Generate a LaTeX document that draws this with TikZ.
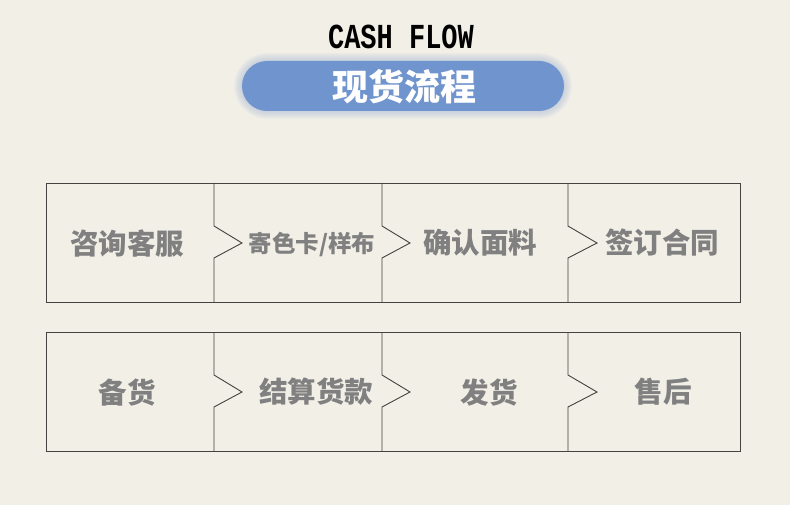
\documentclass[tikz,border=0pt]{standalone}
\usepackage{fontspec}
\newfontfamily\cjk{Noto Sans CJK SC}
\newfontfamily\monof{Liberation Mono}
\definecolor{bg}{HTML}{F2EFE7}
\definecolor{pillc}{HTML}{7094CD}
\definecolor{linec}{HTML}{45423F}
\definecolor{txtc}{HTML}{808080}
\begin{document}
\begin{tikzpicture}[x=1pt,y=-1pt,
  frame/.style={draw=linec,line width=0.9pt},
  steptext/.style={text=txtc,font=\cjk\bfseries\fontsize{28.5}{28.5}\selectfont,inner sep=0pt,anchor=center},
  smalltext/.style={text=txtc,font=\cjk\bfseries\fontsize{23.5}{23.5}\selectfont,inner sep=0pt,anchor=center}]
\fill[bg] (0,0) rectangle (790,505);
\useasboundingbox (0,0) rectangle (790,505);
% title
\node[font=\monof\bfseries\fontsize{27}{27}\selectfont,yscale=1.3,transform shape,inner sep=0pt] (title) at (401,37) {CASH FLOW};
% glow
\foreach \i in {1,...,8}{
  \fill[pillc!60!bg,opacity=0.07] (242-\i,61-\i) [rounded corners=25+\i] rectangle (564+\i,111+\i);
}
\node[fill=pillc,rounded corners=25pt,minimum width=322pt,minimum height=50pt,inner sep=0pt] (pill) at (403,86) {};
\node[text=white,font=\cjk\bfseries\fontsize{36}{36}\selectfont,inner sep=0pt] (pilltext) at (404,87) {现货流程};
% row 1
\coordinate (r1a) at (46,183);
\coordinate (r1b) at (740,302);
\draw[frame] (r1a) rectangle (r1b);
\foreach \x/\t in {214/242,382/410,568/597}{
  \draw[frame] (\x,183) -- (\x,226) -- (\t,243) -- (\x,258) -- (\x,302);
}
\node[steptext] (n1) at (127,243) {咨询客服};
\node[smalltext] (n2) at (312,244) {寄色卡/样布};
\node[steptext] (n3) at (480,243) {确认面料};
\node[steptext] (n4) at (662,243) {签订合同};
% row 2
\coordinate (r2a) at (46,332);
\coordinate (r2b) at (740,451);
\draw[frame] (r2a) rectangle (r2b);
\foreach \x/\t in {214/242,382/410,568/597}{
  \draw[frame] (\x,332) -- (\x,375) -- (\t,392) -- (\x,407) -- (\x,451);
}
\node[steptext] (m1) at (127,393) {备货};
\node[steptext] (m2) at (316,392) {结算货款};
\node[steptext] (m3) at (489,393) {发货};
\node[steptext] (m4) at (663,392) {售后};
\end{tikzpicture}
\end{document}
